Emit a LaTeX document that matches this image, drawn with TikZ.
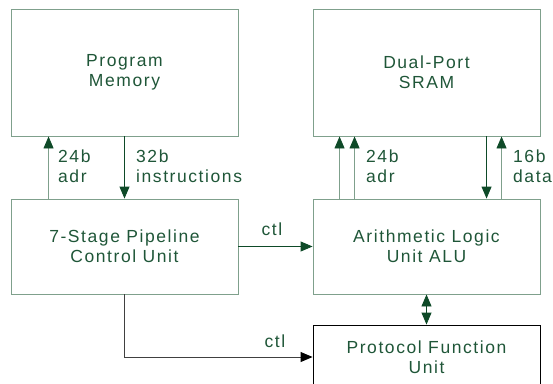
\documentclass[tikz,border=0pt]{standalone}
\usepackage{fontspec}
\setmainfont{Liberation Sans}[LetterSpace=9]
\usetikzlibrary{arrows.meta}
\definecolor{boxline}{HTML}{7FA08C}
\definecolor{dkgreen}{HTML}{0E4A28}
\definecolor{txtgreen}{HTML}{1F5638}
\tikzset{
    blk/.style={draw=boxline, line width=0.9pt, minimum width=227pt, minimum height=127pt,
        align=center, text=txtgreen, font=\fontsize{17.5}{20}\selectfont},
    lbl/.style={anchor=west, align=left, inner sep=0pt, text=txtgreen, font=\fontsize{17.5}{20}\selectfont},
    tip/.style={-{Triangle[width=10pt,length=12pt,color=dkgreen]}},
    bitip/.style={{Triangle[width=10pt,length=12pt,color=dkgreen]}-{Triangle[width=10pt,length=12pt,color=dkgreen]}}
}

\begin{document}
\begin{tikzpicture}[x=1pt,y=-1pt]
    \clip (0,0) rectangle (553,383);
    \node[blk] (pm) at (124.5,72.5) {Program\\Memory};
    \node[blk] (sram) at (426.5,72.5) {Dual-Port\\SRAM};
    \node[blk, minimum height=95pt] (pcu) at (124.5,246.5) {7-Stage Pipeline\\Control Unit};
    \node[blk, minimum height=95pt] (alu) at (426.5,246.5) {Arithmetic Logic\\Unit ALU};
    \node[blk, draw=black, minimum height=64pt] (pfu) at (426.5,357) {Protocol Function\\Unit};

    \draw[boxline, line width=0.9pt, tip] ([xshift=38pt]pcu.north west) -- ([xshift=38pt]pm.south west);
    \draw[dkgreen, line width=0.9pt, tip] (pm.south) -- (pcu.north);
    \draw[boxline, line width=0.9pt, tip] ([xshift=27pt]alu.north west) -- ([xshift=27pt]sram.south west);
    \draw[boxline, line width=0.9pt, tip] ([xshift=42pt]alu.north west) -- ([xshift=42pt]sram.south west);
    \draw[dkgreen, line width=0.9pt, tip] ([xshift=174pt]sram.south west) -- ([xshift=174pt]alu.north west);
    \draw[boxline, line width=0.9pt, tip] ([xshift=189pt]alu.north west) -- ([xshift=189pt]sram.south west);
    \draw[dkgreen, line width=0.9pt, tip] (pcu.east) -- (alu.west);
    \draw[dkgreen, line width=0.9pt, bitip] (alu.south) -- (pfu.north);
    \draw[black!75, line width=0.9pt, -{Triangle[width=10pt,length=12pt,color=black]}] (pcu.south) |- (pfu.west);

    \node[lbl] (adrpm) at (58,166) {24b\\adr};
    \node[lbl] (instr) at (136,166) {32b\\instructions};
    \node[lbl] (adrsram) at (366,166) {24b\\adr};
    \node[lbl] (data) at (513,166) {16b\\data};
    \node[lbl, anchor=center] (ctlalu) at (272,229) {ctl};
    \node[lbl, anchor=center] (ctlpfu) at (275,341) {ctl};
\end{tikzpicture}
\end{document}
